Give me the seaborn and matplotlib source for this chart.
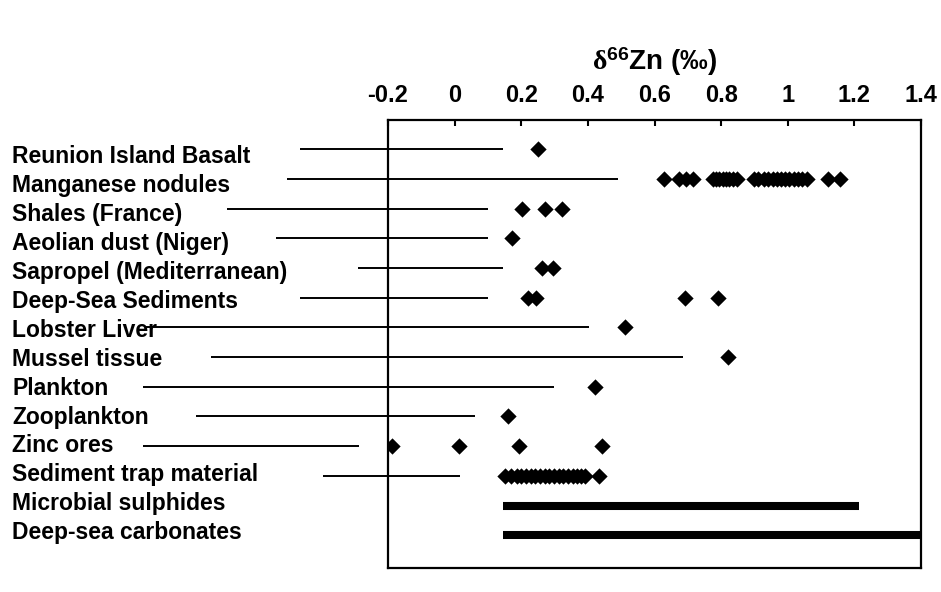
"""Zinc isotope compilation: delta66Zn by sample type."""

import matplotlib

matplotlib.use("Agg")

import numpy as np
import pandas as pd
import seaborn as sns
from matplotlib import pyplot as plt


categories = [
    "Reunion Island Basalt",
    "Manganese nodules",
    "Shales (France)",
    "Aeolian dust (Niger)",
    "Sapropel (Mediterranean)",
    "Deep-Sea Sediments",
    "Lobster Liver",
    "Mussel tissue",
    "Plankton",
    "Zooplankton",
    "Zinc ores",
    "Sediment trap material",
    "Microbial sulphides",
    "Deep-sea carbonates",
]

reunion = [0.25]
manganese = [0.63, 0.675, 0.695, 0.715, 0.775, 0.785, 0.795, 0.805, 0.815,
             0.825, 0.835, 0.847, 0.898, 0.912, 0.928, 0.942, 0.955, 0.968,
             0.98, 0.993, 1.005, 1.018, 1.03, 1.044, 1.057, 1.12, 1.156]
shales = [0.203, 0.271, 0.322]
aeolian = [0.172]
sapropel = [0.262, 0.294]
deep_sea = [0.22, 0.243, 0.692, 0.792]
lobster = [0.512]
mussel = [0.821]
plankton = [0.421]
zooplankton = [0.161]
zinc_ores = [-0.189, 0.012, 0.193, 0.442]
sediment_trap = [0.151, 0.168, 0.186, 0.2, 0.214, 0.228, 0.242, 0.256, 0.27,
                 0.284, 0.298, 0.312, 0.326, 0.34, 0.354, 0.368, 0.38, 0.392,
                 0.433]

# ranges drawn as thick bars
range_names = ["Microbial sulphides", "Deep-sea carbonates"]
range_lo = [0.145, 0.145]
range_hi = [1.215, 1.4]

# leader lines (in delta units) left over from the original figure
leader_rows = categories[:12]
leader_start = [-0.465, -0.502, -0.682, -0.535, -0.291, -0.465,
                -0.925, -0.730, -0.934, -0.775, -0.934, -0.396]
leader_end = [0.144, 0.489, 0.099, 0.099, 0.144, 0.099,
              0.402, 0.685, 0.297, 0.060, -0.288, 0.015]

x_ticks = [-0.2, 0, 0.2, 0.4, 0.6, 0.8, 1.0, 1.2, 1.4]
x_tick_labels = ["-0.2", "0", "0.2", "0.4", "0.6", "0.8", "1", "1.2", "1.4"]

point_groups = {
    "Reunion Island Basalt": reunion,
    "Manganese nodules": manganese,
    "Shales (France)": shales,
    "Aeolian dust (Niger)": aeolian,
    "Sapropel (Mediterranean)": sapropel,
    "Deep-Sea Sediments": deep_sea,
    "Lobster Liver": lobster,
    "Mussel tissue": mussel,
    "Plankton": plankton,
    "Zooplankton": zooplankton,
    "Zinc ores": zinc_ores,
    "Sediment trap material": sediment_trap,
}
frame = pd.DataFrame(
    [(name, v) for name, vals in point_groups.items() for v in vals],
    columns=["sample", "d66zn"],
)

sns.set_style("white")
plt.rcParams.update({
    "font.family": ["Liberation Sans", "DejaVu Sans"],
    "font.weight": "bold",
    "text.color": "black",
    "axes.labelcolor": "black",
    "xtick.color": "black",
    "ytick.color": "black",
    "mathtext.fontset": "custom",
    "mathtext.rm": "Liberation Serif",
    "mathtext.it": "Liberation Serif",
    "mathtext.bf": "Liberation Sans:bold",
})

fig = plt.figure(figsize=(9.41, 5.92), dpi=100)
ax = fig.add_axes([388 / 941, 24 / 592, 533 / 941, 448 / 592])

sns.stripplot(
    data=frame,
    x="d66zn",
    y="sample",
    order=categories,
    jitter=False,
    marker="D",
    color="black",
    size=8.3,
    linewidth=0,
    ax=ax,
)

pos = {name: i for i, name in enumerate(categories)}
ax.hlines(
    [pos[n] for n in range_names], range_lo, range_hi,
    colors="black", linewidth=5.8, capstyle="butt",
)
ax.hlines(
    [pos[n] for n in leader_rows], leader_start, leader_end,
    colors="black", linewidth=1.4, clip_on=False, zorder=1,
)

ax.set_xlim(-0.2, 1.4)
ax.set_ylim(14.1, -0.98)
ax.set_xlabel("")
ax.set_ylabel("")

ax.xaxis.tick_top()
ax.set_xticks(x_ticks, x_tick_labels, fontweight="bold", fontsize=17,
              color="black")
ax.tick_params(axis="x", direction="in", length=4.3, width=1.5, pad=9.2,
               colors="black")

# labels sit slightly off the marker rows in the original
ax.set_yticks(np.linspace(0.17, 12.83, len(categories)), categories,
              fontweight="bold", fontsize=16.5, ha="left", color="black")
ax.tick_params(axis="y", length=0, pad=270.7, labelcolor="black")

for spine in ax.spines.values():
    spine.set_visible(True)
    spine.set_color("black")
    spine.set_linewidth(1.6)

ax.text(0.5, 1.13, r"$\mathrm{\delta}^{\mathbf{66}}$Zn (‰)",
        transform=ax.transAxes, ha="center", va="center",
        fontsize=20, fontweight="bold", color="black")

fig.savefig("out.png", dpi=100, facecolor="white")
